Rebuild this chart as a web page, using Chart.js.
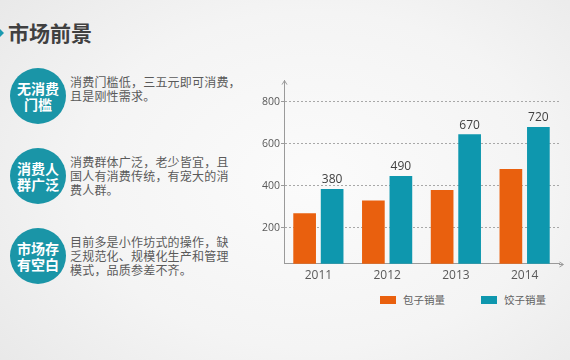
<!DOCTYPE html>
<html>
<head>
<meta charset="utf-8">
<script src="https://cdn.jsdelivr.net/npm/chart.js@4.4.1/dist/chart.umd.min.js"></script>
<style>
  html, body { margin: 0; padding: 0; }
  body {
    width: 570px; height: 360px; overflow: hidden; position: relative;
    background: radial-gradient(ellipse 75% 85% at 55% 50%, #fbfbfb 0%, #f4f4f4 55%, #e7e7e7 100%);
    font-family: 'Noto Sans CJK SC', sans-serif;
  }
  .mark {
    position: absolute; left: 0; top: 29px; width: 0; height: 0;
    border-top: 4px solid transparent; border-bottom: 4px solid transparent;
    border-left: 4px solid #1a9ab0;
  }
  .title {
    position: absolute; left: 8px; top: 17px; font-size: 21px; line-height: 30px;
    font-weight: bold; color: #404040;
  }
  .badge {
    position: absolute; left: 10px; width: 56px; height: 56px; border-radius: 50%;
    background: #1a95a7; color: #fff; font-weight: bold; font-size: 14px; line-height: 16px;
    display: flex; align-items: center; justify-content: center; text-align: center;
  }
  .desc {
    position: absolute; left: 70px; font-size: 12px; line-height: 14px; color: #5a5a5a;
    letter-spacing: 0.2px; white-space: nowrap;
  }
  #wrap { position: absolute; left: 250px; top: 60px; width: 320px; height: 225px; }
  #legend {
    position: absolute; left: 380px; top: 292px; display: flex; align-items: center;
    font-size: 10.5px; line-height: 16px; color: #606060; white-space: nowrap;
  }
  #legend .item { display: flex; align-items: center; margin-right: 36px; white-space: nowrap; }
  #legend .box { width: 16px; height: 8px; margin-right: 7px; flex: none; }
</style>
</head>
<body>
<div class="mark"></div>
<div class="title">市场前景</div>

<div class="badge" style="top:68px">无消费<br>门槛</div>
<div class="desc" style="top:75px">消费门槛低，三五元即可消费，<br>且是刚性需求。</div>

<div class="badge" style="top:148px">消费人<br>群广泛</div>
<div class="desc" style="top:155px">消费群体广泛，老少皆宜，且<br>国人有消费传统，有宠大的消<br>费人群。</div>

<div class="badge" style="top:228px">市场存<br>有空白</div>
<div class="desc" style="top:235px">目前多是小作坊式的操作，缺<br>乏规范化、规模化生产和管理<br>模式，品质参差不齐。</div>

<div id="wrap"><canvas id="chart"></canvas></div>
<div id="legend"></div>

<script>
const years = ['2011', '2012', '2013', '2014'];
const baoziSales = [270, 330, 380, 480];
const jiaoziSales = [385, 447, 645, 680];
const jiaoziLabels = ['380', '490', '670', '720'];
const yTicks = [200, 400, 600, 800];
const seriesNames = ['包子销量', '饺子销量'];
const seriesColors = ['#e9600e', '#0e97ae'];

Chart.defaults.font.family = "'Open Sans', 'Noto Sans CJK SC', sans-serif";

// numbers above the teal bars
const valueLabels = {
    id: 'valueLabels',
    afterDatasetsDraw(chart) {
        const ctx = chart.ctx;
        const meta = chart.getDatasetMeta(1);
        ctx.save();
        ctx.font = "12px 'Open Sans'";
        ctx.fillStyle = '#404040';
        ctx.textAlign = 'center';
        ctx.textBaseline = 'bottom';
        meta.data.forEach((bar, i) => {
            ctx.fillText(jiaoziLabels[i], bar.x, bar.y - 3);
        });
        ctx.restore();
    }
};

// small arrow heads on both axes
const axisArrows = {
    id: 'axisArrows',
    afterDraw(chart) {
        const ctx = chart.ctx;
        const a = chart.chartArea;
        const x0 = Math.round(a.left) + 0.5;
        const y0 = Math.round(a.bottom) + 0.5;
        ctx.save();
        ctx.strokeStyle = '#9a9a9a';
        ctx.lineWidth = 1;
        ctx.beginPath();
        ctx.moveTo(a.right, y0);
        ctx.lineTo(a.right + 4, y0);
        ctx.moveTo(x0 - 2.5, a.top + 4);
        ctx.lineTo(x0, a.top);
        ctx.lineTo(x0 + 2.5, a.top + 4);
        ctx.moveTo(a.right + 0.5, y0 - 2.5);
        ctx.lineTo(a.right + 4.5, y0);
        ctx.lineTo(a.right + 0.5, y0 + 2.5);
        ctx.stroke();
        ctx.restore();
    }
};

new Chart(document.getElementById('chart'), {
    type: 'bar',
    data: {
        labels: years,
        datasets: [
            { label: seriesNames[0], data: baoziSales, backgroundColor: seriesColors[0] },
            { label: seriesNames[1], data: jiaoziSales, backgroundColor: seriesColors[1] }
        ]
    },
    options: {
        responsive: true,
        maintainAspectRatio: false,
        animation: false,
        categoryPercentage: 0.8,
        barPercentage: 0.825,
        layout: { padding: { top: 20.6, right: 11, left: 0, bottom: 0 } },
        plugins: {
            legend: { display: false },
            tooltip: { enabled: false }
        },
        scales: {
            x: {
                grid: { display: false, drawTicks: false },
                border: { color: '#9a9a9a', width: 1 },
                ticks: { color: '#595959', font: { size: 12 }, padding: 5 },
                afterFit(scale) { scale.height = 21.3; }
            },
            y: {
                min: 30,
                max: 900,
                afterBuildTicks(scale) { scale.ticks = yTicks.map(v => ({ value: v })); },
                grid: { color: '#a8a8a8', tickColor: '#9a9a9a', tickLength: 3, tickBorderDash: [] },
                border: { color: '#9a9a9a', width: 1, dash: [2, 2] },
                ticks: { color: '#595959', font: { size: 10.5 }, padding: 1 },
                afterFit(scale) { scale.width = 34; }
            }
        }
    },
    plugins: [valueLabels, axisArrows]
});

// legend built from the series names and colours
const legend = document.getElementById('legend');
seriesNames.forEach((name, i) => {
    const item = document.createElement('div');
    item.className = 'item';
    item.innerHTML = `<span class="box" style="background:${seriesColors[i]}"></span>${name}`;
    legend.appendChild(item);
});
</script>
</body>
</html>
